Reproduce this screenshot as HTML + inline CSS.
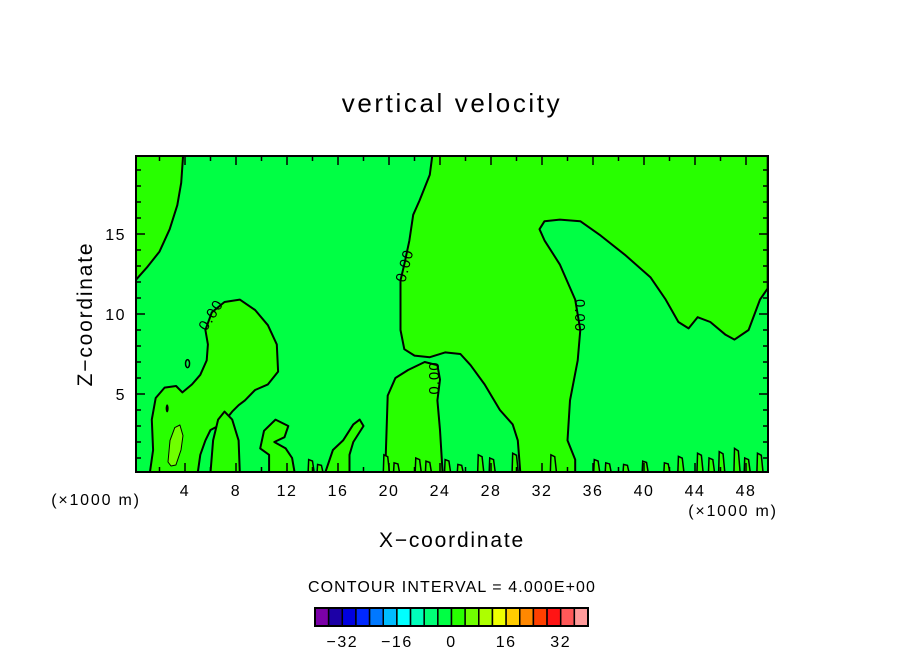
<!DOCTYPE html>
<html><head><meta charset="utf-8"><style>
body{margin:0;background:#fff}
svg text{font-family:"Liberation Sans",sans-serif;fill:#000}
</style></head><body>
<svg width="904" height="654" viewBox="0 0 904 654" xmlns="http://www.w3.org/2000/svg">
<text x="452" y="112" font-size="26" letter-spacing="2.6" text-anchor="middle">vertical velocity</text>
<g id="plot"></g>
<text x="452" y="547" font-size="21" letter-spacing="1.8" text-anchor="middle">X−coordinate</text>
<text transform="translate(92,314) rotate(-90)" font-size="21" letter-spacing="1.8" text-anchor="middle">Z−coordinate</text>
<text x="96" y="505" font-size="16" letter-spacing="1.8" text-anchor="middle">(×1000 m)</text>
<text x="733" y="516" font-size="16" letter-spacing="1.8" text-anchor="middle">(×1000 m)</text>
<text x="452" y="592" font-size="16" letter-spacing="1.1" text-anchor="middle">CONTOUR INTERVAL = 4.000E+00</text>
<g id="cbar"></g>
</svg>
<script>
const xTicks=[4,8,12,16,20,24,28,32,36,40,44,48];
const zTicks=[5,10,15];
const cbLevels=[-40,-36,-32,-28,-24,-20,-16,-12,-8,-4,0,4,8,12,16,20,24,28,32,36,40];
const cbColors=["#7b00a8","#1c00a6","#0000e0","#0028ff","#0078ff","#00bcff","#00ffff","#00ffbb","#00ff77","#00ff44","#28ff00","#70ff00","#adff00","#eeff00","#ffcc00","#ff8800","#ff4000","#ff1414","#ff5858","#ff9a9a"];
const cbLabels=[-32,-16,0,16,32];
const posTopLeft=[[0,12.0],[1,12.9],[2,13.9],[2.8,15.3],[3.4,16.8],[3.7,18.2],[3.85,19.9],[0,19.9]];
const posMain=[[23.4,19.9],[23.2,18.7],[22.4,17.1],[21.9,16.2],[21.6,14.6],[21.2,13.1],[20.9,12.1],[20.9,10.9],[20.9,9.0],[21.2,7.8],[22.0,7.4],[23.2,7.3],[24.4,7.6],[25.6,7.5],[26.4,6.8],[27.5,5.6],[28.7,4.0],[29.7,3.1],[30.1,2.1],[30.3,0.1],[34.6,0.1],[34.6,0.9],[34.0,2.1],[34.2,4.6],[34.8,7.1],[35.0,9.0],[34.6,10.9],[33.4,13.1],[32.2,14.6],[31.8,15.3],[32.2,15.8],[33.4,15.9],[35.0,15.8],[36.6,14.9],[38.5,13.7],[40.5,12.3],[41.7,10.9],[42.7,9.5],[43.5,9.1],[44.2,9.8],[45.2,9.5],[46.4,8.7],[47.1,8.4],[48.2,9.0],[49.1,10.9],[49.7,11.6],[49.7,19.9]];
const posLeftLobe=[[1.25,0.1],[1.5,1.5],[1.4,3.4],[1.7,4.75],[2.4,5.4],[3.3,5.5],[3.8,5.1],[4.55,5.6],[5.2,6.2],[5.7,7.1],[5.8,8.1],[5.6,9.0],[6.1,10.1],[7.1,10.75],[8.3,10.9],[9.5,10.25],[10.5,9.3],[11.2,8.1],[11.3,6.4],[10.5,5.6],[9.5,5.25],[8.7,4.6],[8.2,4.3],[7.7,3.9],[7.1,3.3],[6.6,3.0],[6.0,2.75],[5.6,2.1],[5.2,1.2],[5.0,0.1]];
const posLobe2=[[6.0,0.1],[6.2,2.1],[6.6,3.4],[7.1,3.9],[7.7,3.4],[8.2,2.1],[8.3,0.1]];
const posLobe3=[[9.9,1.6],[10.2,2.7],[11.1,3.4],[12.1,3.0],[11.8,2.3],[11.0,2.0],[11.9,1.6],[12.4,1.0],[12.6,0.1],[10.6,0.1],[10.6,1.2]];
const posLobe4=[[15.0,0.1],[15.6,1.5],[16.4,2.1],[17.2,3.1],[17.7,3.4],[18.0,3.0],[17.2,2.0],[16.9,1.2],[16.9,0.1]];
const posLobe5=[[19.7,0.1],[19.9,4.9],[20.5,6.0],[21.5,6.5],[22.8,7.0],[23.8,6.8],[24.0,5.9],[23.8,4.6],[24.0,2.75],[24.2,0.1]];
const brightSpot=[[2.67,0.75],[2.82,2.1],[3.2,2.9],[3.6,3.06],[3.84,2.4],[3.69,1.5],[3.29,0.56],[2.9,0.5]];
const squigX=[13.9,14.6,19.8,20.6,22.3,23.1,24.6,25.6,27.2,28.1,29.9,32.9,36.3,37.2,38.6,40.1,41.8,42.9,44.4,45.3,46.1,47.3,48.1,49.1];
const squigH=[0.9,0.6,1.2,0.7,1.0,0.8,0.9,0.6,1.2,1.0,1.3,1.2,0.9,0.7,0.6,0.8,0.7,1.1,1.3,1.0,1.4,1.6,1.0,1.3];
const labels=[[6.1,9.9,-58],[21.3,13.0,-75],[23.6,6.0,-90],[34.9,9.9,90]];

const X0=134,XS=12.75,Z0=474,ZS=16;
const L=136,R=768,T=156,B=472;
const sx=v=>X0+v*XS, sz=v=>Z0-v*ZS;
const NS="http://www.w3.org/2000/svg";
const plot=document.getElementById('plot');
function mk(tag,attrs,parent){const e=document.createElementNS(NS,tag);for(const k in attrs)e.setAttribute(k,attrs[k]);(parent||plot).appendChild(e);return e;}
const defs=mk('defs',{});const cp=mk('clipPath',{id:'clip'},defs);mk('rect',{x:L,y:T,width:R-L,height:B-T},cp);
const bg=mk('rect',{x:L,y:T,width:R-L,height:B-T,fill:cbColors[9]});


const g=mk('g',{'clip-path':'url(#clip)'});
function poly(pts,fill,sw,name){const d=pts.map((p,i)=>(i?'L':'M')+sx(p[0]).toFixed(1)+','+sz(p[1]).toFixed(1)).join('')+'Z';const e=mk('path',{d:d,fill:fill,stroke:'#000','stroke-width':sw,'stroke-linejoin':'round'},g);


return e;}
poly(posTopLeft,cbColors[10],2,'contour-region-top-left');
poly(posMain,cbColors[10],2,'contour-region-main');
poly(posLeftLobe,cbColors[10],2,'contour-region-left-lobe');
poly(posLobe2,cbColors[10],2,'contour-region-lobe-2');
poly(posLobe3,cbColors[10],2,'contour-region-lobe-3');
poly(posLobe4,cbColors[10],2,'contour-region-lobe-4');
poly(posLobe5,cbColors[10],2,'contour-region-lobe-5');
poly(brightSpot,cbColors[11],1,'contour-region-peak');
const e1=mk('ellipse',{cx:sx(4.2),cy:sz(6.9),rx:2,ry:4,fill:'none',stroke:'#000','stroke-width':1.5},g);


const e2=mk('ellipse',{cx:sx(2.6),cy:sz(4.1),rx:1.5,ry:4,fill:'#000'},g);


squigX.forEach((x,i)=>{const h=squigH[i];const d='M'+sx(x-0.25)+','+sz(0)+'L'+sx(x-0.2)+','+sz(h)+'L'+sx(x+0.1)+','+sz(h*0.9)+'L'+sx(x+0.25)+','+sz(0);
const p=mk('path',{d:d,fill:cbColors[10],stroke:'#000','stroke-width':1.5},g);

});
labels.forEach(l=>{const t=mk('text',{x:0,y:0,'font-size':15,'text-anchor':'middle','dominant-baseline':'middle',transform:`translate(${sx(l[0])},${sz(l[1])}) rotate(${l[2]})`,'letter-spacing':'1'},g);t.textContent='0.00';

});
const fr=mk('rect',{x:L,y:T,width:R-L,height:B-T,fill:'none',stroke:'#000','stroke-width':2});


for(let v=2;v<50;v+=2){const len=(v%4==0)?9:5;const x=sx(v);
const a=mk('line',{x1:x,y1:B,x2:x,y2:B-len,stroke:'#000','stroke-width':1.5});
const b=mk('line',{x1:x,y1:T,x2:x,y2:T+len,stroke:'#000','stroke-width':1.5});}
for(let v=1;v<20;v++){const len=(v%5==0)?9:5;const y=sz(v);
const a=mk('line',{x1:L,y1:y,x2:L+len,y2:y,stroke:'#000','stroke-width':1.5});
const b=mk('line',{x1:R,y1:y,x2:R-len,y2:y,stroke:'#000','stroke-width':1.5});}
xTicks.forEach(v=>{const t=mk('text',{x:sx(v),y:496,'font-size':16,'letter-spacing':1.5,'text-anchor':'middle'});t.textContent=v;

});
zTicks.forEach(v=>{const t=mk('text',{x:126,y:sz(v)+6,'font-size':16,'letter-spacing':1.5,'text-anchor':'end'});t.textContent=v;

});
const cb=document.getElementById('cbar');
const cbL=315,cbR=588,cbT=608,cbB=626;
const cx=v=>cbL+(v-cbLevels[0])/(cbLevels[cbLevels.length-1]-cbLevels[0])*(cbR-cbL);
cbColors.forEach((c,i)=>{const r=mk('rect',{x:cx(cbLevels[i]),y:cbT,width:cx(cbLevels[i+1])-cx(cbLevels[i]),height:cbB-cbT,fill:c,stroke:'#000','stroke-width':1.5},cb);

});
mk('rect',{x:cbL,y:cbT,width:cbR-cbL,height:cbB-cbT,fill:'none',stroke:'#000','stroke-width':2},cb);
cbLabels.forEach(v=>{const t=mk('text',{x:cx(v),y:647,'font-size':16,'letter-spacing':1.5,'text-anchor':'middle'},cb);t.textContent=(v<0?'−':'')+Math.abs(v);

});
</script>
</body></html>
